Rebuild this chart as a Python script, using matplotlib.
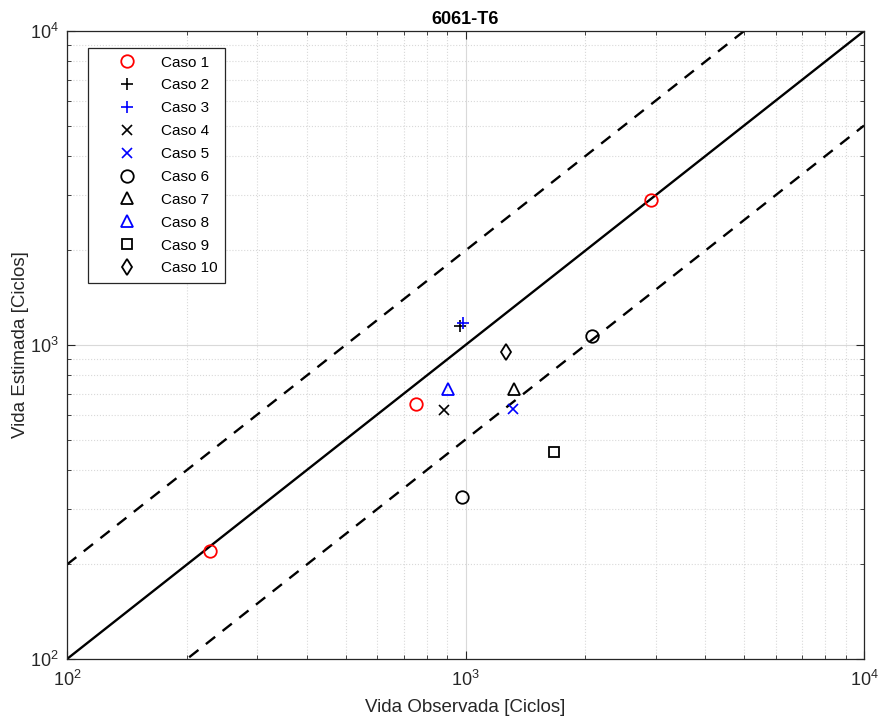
import numpy as np
import matplotlib
matplotlib.use('Agg')
import matplotlib.pyplot as plt
from matplotlib.ticker import LogLocator, NullFormatter

plt.rcParams['font.family'] = ['Liberation Sans', 'DejaVu Sans']

# observed / estimated life for each case (cycles)
caso1_obs = [229, 752, 2921]
caso1_est = [221, 649, 2897]
caso2_obs = [969]
caso2_est = [1150]
caso3_obs = [986]
caso3_est = [1175]
caso4_obs = [883]
caso4_est = [621]
caso5_obs = [1316]
caso5_est = [625]
caso6_obs = [2077, 980]
caso6_est = [1068, 328]
caso7_obs = [1323]
caso7_est = [724]
caso8_obs = [904]
caso8_est = [724]
caso9_obs = [1667]
caso9_est = [456]
caso10_obs = [1264]
caso10_est = [951]

casos = [
    ('Caso 1', caso1_obs, caso1_est, 'o', 'red'),
    ('Caso 2', caso2_obs, caso2_est, '+', 'black'),
    ('Caso 3', caso3_obs, caso3_est, '+', 'blue'),
    ('Caso 4', caso4_obs, caso4_est, 'x', 'black'),
    ('Caso 5', caso5_obs, caso5_est, 'x', 'blue'),
    ('Caso 6', caso6_obs, caso6_est, 'o', 'black'),
    ('Caso 7', caso7_obs, caso7_est, '^', 'black'),
    ('Caso 8', caso8_obs, caso8_est, '^', 'blue'),
    ('Caso 9', caso9_obs, caso9_est, 's', 'black'),
    ('Caso 10', caso10_obs, caso10_est, 'd', 'black'),
]

lim = [1e2, 1e4]

fig = plt.figure(figsize=(8.82, 7.22), dpi=100)
ax = fig.add_axes([0.076, 0.0873, 0.9036, 0.8697])

line = np.array(lim)
ax.plot(line, line, color='black', lw=1.7)
ax.plot(line, 2 * line, color='black', lw=1.7, ls=(0, (5, 4)))
ax.plot(line, line / 2, color='black', lw=1.7, ls=(0, (5, 4)))

sizes = {'o': 9, '^': 9, 's': 7, 'd': 8.5, '+': 8.5, 'x': 6.5}
for name, xo, ye, m, c in casos:
    if m in ['+', 'x']:
        ax.plot(xo, ye, ls='none', marker=m, color=c, ms=sizes[m], mew=1.2, label=name)
    else:
        ax.plot(xo, ye, ls='none', marker=m, mfc='none', mec=c, ms=sizes[m], mew=1.3, label=name)

ax.set_xscale('log')
ax.set_yscale('log')
ax.set_xlim(lim)
ax.set_ylim(lim)

ax.xaxis.set_minor_locator(LogLocator(base=10, subs=np.arange(2, 10)))
ax.yaxis.set_minor_locator(LogLocator(base=10, subs=np.arange(2, 10)))
ax.xaxis.set_minor_formatter(NullFormatter())
ax.yaxis.set_minor_formatter(NullFormatter())

ax.grid(True, which='major', color='#d9d9d9', lw=0.8, ls='-')
ax.grid(True, which='minor', color='#d9d9d9', lw=0.8, ls=':')
ax.set_axisbelow(True)

ax.tick_params(which='both', direction='in', top=True, right=True, labelsize=13, colors='#262626')
ax.tick_params(axis='x', which='major', pad=8)
ax.tick_params(axis='y', which='major', pad=6)
ax.tick_params(which='major', length=6)
ax.tick_params(which='minor', length=3)
for s in ax.spines.values():
    s.set_color('#262626')
    s.set_linewidth(0.9)

ax.set_xlabel('Vida Observada [Ciclos]', fontsize=13.5, color='#262626', labelpad=6)
ax.set_ylabel('Vida Estimada [Ciclos]', fontsize=13.5, color='#262626', labelpad=1)
ax.set_title('6061-T6', fontsize=13, fontweight='bold', pad=5)

leg = ax.legend(loc='upper left', bbox_to_anchor=(0.026, 0.973), borderaxespad=0,
                fontsize=11, fancybox=False, edgecolor='#262626', framealpha=1,
                handletextpad=0.1, borderpad=0.5, labelspacing=0.58, handlelength=4.2)
leg.get_frame().set_linewidth(0.9)

plt.savefig('out.png', dpi=100)
